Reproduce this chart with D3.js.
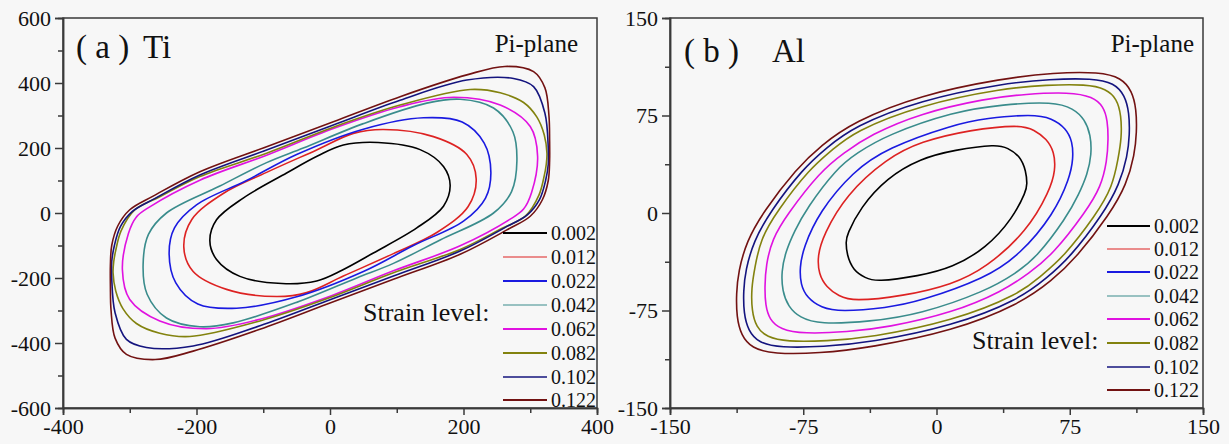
<!DOCTYPE html>
<html><head><meta charset="utf-8">
<script src="https://cdn.jsdelivr.net/npm/d3@7"></script>
<style>html,body{margin:0;padding:0;background:#f7f7f7;}svg{display:block;}</style>
</head><body>
<svg id="chart" width="1229" height="444"></svg>
<script>
// ---------- data ----------
const strainLevels = ["0.002","0.012","0.022","0.042","0.062","0.082","0.102","0.122"];
const seriesColors = ["#000000","#dd2222","#1a1ae0","#3a8c8c","#e012e0","#82820e","#14147e","#721212"];
const legendWidths = [2, 1.2, 2.2, 1.2, 2.2, 2, 1.6, 1.8];

const tiXTicks = [-400,-200,0,200,400];
const tiYTicks = [-600,-400,-200,0,200,400,600];
const alXTicks = [-150,-75,0,75,150];
const alYTicks = [-150,-75,0,75,150];

// Ti (pi-plane) yield loci
const ti002 = [[180,85],[170,143],[135,195],[72,217],[20,209],[-18,176],[-65,123],[-130,46],[-170,-21],[-180,-85],[-170,-143],[-135,-195],[-72,-217],[-20,-209],[18,-176],[65,-123],[130,-46],[170,21]];
const ti012 = [[219,105],[205,180],[155,235],[80,257],[35,245],[-20,194],[-95,125],[-160,60],[-207,-20],[-219,-105],[-205,-180],[-155,-235],[-80,-257],[-35,-245],[20,-194],[95,-125],[160,-60],[207,20]];
const ti022 = [[241,125],[231,215],[198,280],[140,293],[50,258],[-50,180],[-125,100],[-200,25],[-233,-46],[-241,-125],[-231,-215],[-198,-280],[-140,-293],[-50,-258],[50,-180],[125,-100],[200,-25],[233,46]];
const ti042 = [[280,160],[274,250],[245,323],[195,350],[145,338],[50,275],[-40,200],[-95,155],[-165,83],[-245,0],[-272,-66],[-280,-160],[-274,-250],[-245,-323],[-195,-350],[-145,-338],[-50,-275],[40,-200],[95,-155],[165,-83],[245,0],[272,66]];
const ti062 = [[311,175],[300,266],[255,332],[185,356],[105,327],[5,260],[-95,178],[-195,101],[-270,19],[-290,-12],[-302,-63],[-311,-175],[-300,-266],[-255,-332],[-185,-356],[-105,-327],[-5,-260],[95,-178],[195,-101],[270,-19],[290,12],[302,63]];
const ti082 = [[324,150],[325,184],[321,240],[310,295],[290,340],[255,370],[210,380],[105,332],[5,264],[-95,184],[-195,112],[-255,50],[-293,9],[-313,-55],[-321,-115],[-324,-150],[-325,-184],[-321,-240],[-310,-295],[-290,-340],[-255,-370],[-210,-380],[-105,-332],[-5,-264],[95,-184],[195,-112],[255,-50],[293,-9],[313,55],[321,115]];
const ti102 = [[327,150],[327,200],[322,307],[305,389],[275,414],[205,409],[105,347],[5,271],[-95,194],[-195,117],[-262,45],[-296,5],[-314,-42],[-323,-100],[-327,-150],[-327,-200],[-322,-307],[-305,-389],[-275,-414],[-205,-409],[-105,-347],[-5,-271],[95,-194],[195,-117],[262,-45],[296,-5],[314,42],[323,100]];
const ti122 = [[329,160],[329,225],[328,300],[322,385],[305,435],[262,451],[205,425],[105,358],[5,281],[-95,204],[-195,127],[-265,52],[-300,10],[-318,-40],[-327,-100],[-329,-160],[-329,-225],[-328,-300],[-322,-385],[-305,-435],[-262,-451],[-205,-425],[-105,-358],[-5,-281],[95,-204],[195,-127],[265,-52],[300,-10],[318,40],[327,100]];

// Al (pi-plane) yield loci
const al002 = [[51,22],[50.5,32],[47,44],[40,50],[34,53],[10,48.5],[-9,42],[-28,27],[-43,4],[-50.5,-17],[-51,-22],[-50.5,-32],[-47,-44],[-40,-50],[-34,-53],[-10,-48.5],[9,-42],[28,-27],[43,-4],[50.5,17]];
const al012 = [[67,33],[66.3,47],[62,57],[55,64],[47,68],[19,64],[-9,55],[-28,42],[-51,14],[-63.7,-17],[-67,-33],[-66.3,-47],[-62,-57],[-55,-64],[-47,-68],[-19,-64],[9,-55],[28,-42],[51,-14],[63.7,17]];
const al022 = [[77,42],[76.5,55],[73,65],[65,73],[54,76],[28,73],[9.5,68],[-28,50],[-47,32],[-66,1],[-75,-27],[-77,-42],[-76.5,-55],[-73,-65],[-65,-73],[-54,-76],[-28,-73],[-9.5,-68],[28,-50],[47,-32],[66,-1],[75,27]];
const al042 = [[87.3,45],[86.8,60],[83.5,72],[77,80.5],[66,85.6],[37.6,83.6],[9.5,78],[-28.1,60],[-45,46],[-56.2,34.4],[-73.1,3.6],[-80,-14],[-85,-30],[-87.3,-45],[-86.8,-60],[-83.5,-72],[-77,-80.5],[-66,-85.6],[-37.6,-83.6],[-9.5,-78],[28.1,-60],[45,-46],[56.2,-34.4],[73.1,-3.6],[80,14],[85,30]];
const al062 = [[96.7,57],[96.3,71],[94,82],[88,89.5],[75,93],[50,91.5],[28.2,88.2],[-9.3,76.7],[-37.4,60],[-52,46.5],[-65.6,31.8],[-84.3,-1.5],[-92.5,-20],[-96,-40],[-96.7,-57],[-96.3,-71],[-94,-82],[-88,-89.5],[-75,-93],[-50,-91.5],[-28.2,-88.2],[9.3,-76.7],[37.4,-60],[52,-46.5],[65.6,-31.8],[84.3,1.5],[92.5,20],[96,40]];
const al082 = [[104.2,58],[104,75],[101.5,88],[95.5,95.5],[84.5,99],[62,98.5],[37.6,95.9],[-9.3,83.1],[-46.8,62.5],[-59,48],[-71.2,34.4],[-90,1],[-99,-20],[-102.3,-42],[-104.2,-58],[-104,-75],[-101.5,-88],[-95.5,-95.5],[-84.5,-99],[-62,-98.5],[-37.6,-95.9],[9.3,-83.1],[46.8,-62.5],[59,-48],[71.2,-34.4],[90,-1],[99,20],[102.3,42]];
const al102 = [[108.7,60],[108.5,77],[106,90.5],[100,100],[88,103.6],[64,103],[37.6,99.7],[-9.3,86.9],[-46.8,66.4],[-62,50],[-75,34.4],[-93.7,1],[-103,-22],[-107.5,-44],[-108.7,-60],[-108.5,-77],[-106,-90.5],[-100,-100],[-88,-103.6],[-64,-103],[-37.6,-99.7],[9.3,-86.9],[46.8,-66.4],[62,-50],[75,-34.4],[93.7,-1],[103,22],[107.5,44]];
const al122 = [[112.7,62],[112.5,80],[110,94],[104,104],[92,108.5],[66,108],[37.6,103.6],[-9.3,90.8],[-46.8,70.2],[-65,52],[-78.7,34.4],[-97.5,1],[-107,-22],[-111.5,-45],[-112.7,-62],[-112.5,-80],[-110,-94],[-104,-104],[-92,-108.5],[-66,-108],[-37.6,-103.6],[9.3,-90.8],[46.8,-70.2],[65,-52],[78.7,-34.4],[97.5,-1],[107,22],[111.5,45]];

const tiCurves = [ti002, ti012, ti022, ti042, ti062, ti082, ti102, ti122];
const alCurves = [al002, al012, al022, al042, al062, al082, al102, al122];

// ---------- drawing ----------
const svg = d3.select("#chart");
const FONT = "'Liberation Serif','Times New Roman',serif";

function panel(cfg) {
  const x = d3.scaleLinear().domain(cfg.xDomain).range([cfg.left, cfg.right]);
  const y = d3.scaleLinear().domain(cfg.yDomain).range([cfg.bottom, cfg.top]);
  const g = svg.append("g");

  g.append("rect").attr("x", cfg.left).attr("y", cfg.top)
    .attr("width", cfg.right - cfg.left).attr("height", cfg.bottom - cfg.top)
    .attr("fill", "none").attr("stroke", "#3a3a3a").attr("stroke-width", 1.5);

  const xMinor = d3.range(cfg.xTicks.length - 1).map(i => (cfg.xTicks[i] + cfg.xTicks[i+1]) / 2);
  const yMinor = d3.range(cfg.yTicks.length - 1).map(i => (cfg.yTicks[i] + cfg.yTicks[i+1]) / 2);

  const xAxis = g.append("g").attr("transform", `translate(0,${cfg.bottom})`)
    .call(d3.axisBottom(x).tickValues(cfg.xTicks).tickSize(7).tickPadding(3).tickFormat(d => d));
  const xAxisMinor = g.append("g").attr("transform", `translate(0,${cfg.bottom})`)
    .call(d3.axisBottom(x).tickValues(xMinor).tickSize(5).tickFormat(""));
  const yAxis = g.append("g").attr("transform", `translate(${cfg.left},0)`)
    .call(d3.axisLeft(y).tickValues(cfg.yTicks).tickSize(8).tickPadding(4).tickFormat(d => d));
  const yAxisMinor = g.append("g").attr("transform", `translate(${cfg.left},0)`)
    .call(d3.axisLeft(y).tickValues(yMinor).tickSize(5).tickFormat(""));
  [xAxis, xAxisMinor, yAxis, yAxisMinor].forEach(a => {
    a.select(".domain").attr("stroke", "#3a3a3a").attr("stroke-width", 1.5);
    a.selectAll(".tick line").attr("stroke", "#3a3a3a").attr("stroke-width", 1.5);
    a.selectAll("text").attr("font-family", FONT).attr("font-size", 22).attr("fill", "#111");
  });

  const line = d3.line().x(d => x(d[0])).y(d => y(d[1])).curve(cfg.curve);
  cfg.curves.forEach((c, i) => {
    g.append("path").attr("d", line(c)).attr("fill", "none")
      .attr("stroke", seriesColors[i]).attr("stroke-width", 1.6);
  });

  cfg.legendRows.forEach((ly, i) => {
    g.append("line").attr("x1", cfg.legX1).attr("x2", cfg.legX2).attr("y1", ly).attr("y2", ly)
      .attr("stroke", seriesColors[i]).attr("stroke-width", legendWidths[i]);
    g.append("text").attr("x", cfg.legX2 + 4).attr("y", ly + 7).text(strainLevels[i])
      .attr("font-family", FONT).attr("font-size", 20).attr("fill", "#111");
  });
  g.append("text").attr("x", cfg.strainX).attr("y", cfg.strainY).text("Strain level:")
    .attr("font-family", FONT).attr("font-size", 26).attr("fill", "#111");
  g.append("text").attr("x", cfg.piX).attr("y", cfg.piY).attr("text-anchor", "end").text("Pi-plane")
    .attr("font-family", FONT).attr("font-size", 25).attr("fill", "#111");
  g.append("text").attr("x", cfg.labX).attr("y", cfg.labY).text(cfg.label)
    .attr("font-family", FONT).attr("font-size", 33).attr("fill", "#111");
  g.append("text").attr("x", cfg.matX).attr("y", cfg.labY).text(cfg.material)
    .attr("font-family", FONT).attr("font-size", 33).attr("fill", "#111");
}

panel({
  xDomain: [-400, 400], yDomain: [-600, 600], left: 63, right: 597, top: 18, bottom: 408,
  xTicks: tiXTicks, yTicks: tiYTicks, curves: tiCurves, curve: d3.curveCatmullRomClosed.alpha(0.5),
  legendRows: [233, 257, 281, 305, 329, 353, 377, 400], legX1: 503, legX2: 547,
  strainX: 363, strainY: 321, piX: 578, piY: 52,
  label: "( a )", material: "Ti", labX: 76, matX: 143, labY: 58
});
panel({
  xDomain: [-150, 150], yDomain: [-150, 150], left: 670, right: 1203, top: 18, bottom: 408,
  xTicks: alXTicks, yTicks: alYTicks, curves: alCurves, curve: d3.curveBasisClosed,
  legendRows: [226, 249, 272, 296, 319, 343, 367, 390], legX1: 1107, legX2: 1150,
  strainX: 972, strainY: 349, piX: 1194, piY: 52,
  label: "( b )", material: "Al", labX: 684, matX: 772, labY: 62
});
</script>
</body></html>
